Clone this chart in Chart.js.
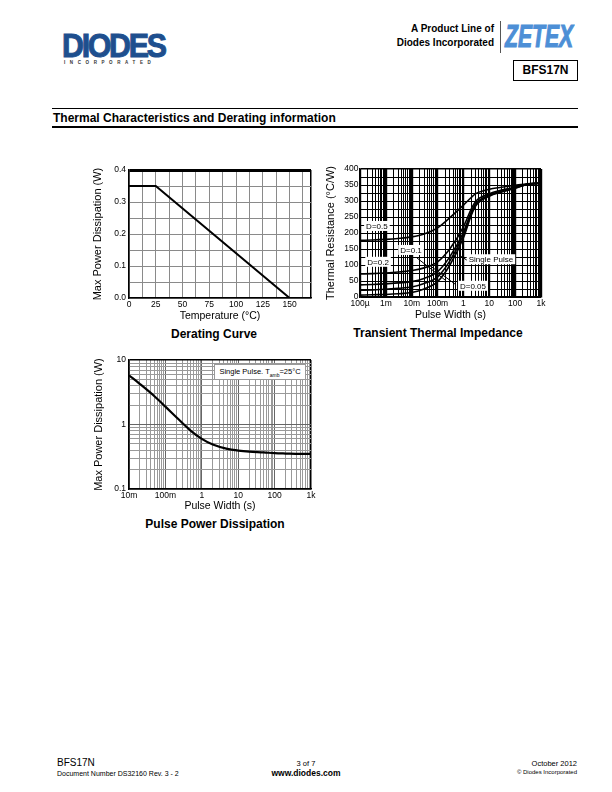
<!DOCTYPE html>
<html>
<head>
<meta charset="utf-8">
<script src="https://cdn.jsdelivr.net/npm/chart.js@4.4.0/dist/chart.umd.min.js"></script>
<style>
  body { margin: 0; width: 612px; height: 792px; position: relative; background: #fff; overflow: hidden;
         font-family: "Liberation Sans", Arial, sans-serif; color: #000; }
  .t { position: absolute; white-space: nowrap; line-height: 1; }
  canvas { position: absolute; }
  .cap { position: absolute; font-weight: bold; font-size: 12px; transform: translate(-50%, -50%); white-space: nowrap; }
</style>
</head>
<body>

<!-- header -->
<div class="t" style="left:62px;top:29px;font-size:33px;font-weight:900;color:#1e4f8e;letter-spacing:-2.5px;-webkit-text-stroke:1px #1e4f8e;transform:scaleX(0.92);transform-origin:left">DIODES</div>
<div class="t" style="left:64px;top:61px;font-size:4.5px;font-weight:bold;letter-spacing:4.6px;color:#333">INCORPORATED</div>
<div class="t" style="right:118px;top:24px;font-size:10px;font-weight:bold;text-align:right">A Product Line of</div>
<div class="t" style="right:118px;top:38px;font-size:10px;font-weight:bold;text-align:right">Diodes Incorporated</div>
<div style="position:absolute;left:500px;top:21px;width:1px;height:32px;background:#555"></div>
<div class="t" style="left:505px;top:20px;font-size:32px;font-weight:bold;font-style:italic;color:#4d8fd6;-webkit-text-stroke:1.2px #4d8fd6;transform:scaleX(0.66);transform-origin:left">ZETEX</div>
<div style="position:absolute;left:513px;top:60px;width:63px;height:19px;border:1px solid #000;font-size:12px;font-weight:bold;text-align:center;line-height:19px">BFS17N</div>

<div style="position:absolute;left:52px;top:108px;width:526px;height:1px;background:#000"></div>
<div class="t" style="left:53px;top:112px;font-size:12px;font-weight:bold">Thermal Characteristics and Derating information</div>
<div style="position:absolute;left:52px;top:126px;width:526px;height:2px;background:#000"></div>

<!-- charts -->
<canvas id="derating" width="231" height="160" style="left:90px;top:162px"></canvas>
<canvas id="transient" width="228" height="160" style="left:323px;top:161px"></canvas>
<canvas id="pulse" width="230" height="160" style="left:91px;top:352px"></canvas>

<div class="cap" style="left:214px;top:334px">Derating Curve</div>
<div class="cap" style="left:438px;top:333px">Transient Thermal Impedance</div>
<div class="cap" style="left:215px;top:524px">Pulse Power Dissipation</div>

<div style="position:absolute;left:214px;top:364px;width:90px;height:14px;border:1px solid #999;background:#fff;font-size:7.5px;line-height:14px;text-align:center;white-space:nowrap">Single Pulse. T<sub style="font-size:5px">amb</sub>=25°C</div>

<!-- footer -->
<div class="t" style="left:57px;top:758px;font-size:10px">BFS17N</div>
<div class="t" style="left:57px;top:770px;font-size:7px">Document Number DS32160 Rev. 3 - 2</div>
<div class="t" style="left:306px;top:760px;font-size:7.5px;transform:translateX(-50%)">3 of 7</div>
<div class="t" style="left:306px;top:769px;font-size:8.5px;font-weight:bold;transform:translateX(-50%)">www.diodes.com</div>
<div class="t" style="right:35px;top:760px;font-size:7.5px">October 2012</div>
<div class="t" style="right:35px;top:769px;font-size:6px">© Diodes Incorporated</div>

<script>
// ---- Derating curve ----
const derTemp = [0, 25, 150];
const derPower = [0.35, 0.35, 0];
const derXGrid = [0, 12.5, 25, 37.5, 50, 62.5, 75, 87.5, 100, 112.5, 125, 137.5, 150, 162.5, 170];
const derXLabelValues = [0, 25, 50, 75, 100, 125, 150];
const derXLabels = ["0", "25", "50", "75", "100", "125", "150"];
const derYGrid = [0, 0.05, 0.1, 0.15, 0.2, 0.25, 0.3, 0.35, 0.4];
const derYLabelValues = [0, 0.1, 0.2, 0.3, 0.4];
const derYLabels = ["0.0", "0.1", "0.2", "0.3", "0.4"];

// ---- Transient thermal impedance ----
const ttTimes = [1e-4, 3e-4, 1e-3, 3e-3, 1e-2, 3e-2, 0.1, 0.3, 1, 2, 3, 10, 30, 100, 300, 1000];
const ttD05 = [177, 178, 180, 183, 188, 197, 216, 248, 287, 311, 323, 337, 343, 349, 354, 356];
const ttD02 = [72, 73, 75, 78, 83, 91, 110, 151, 219, 275, 299, 323, 334, 343, 353, 356];
const ttD01 = [38, 39, 41, 44, 48, 58, 79, 126, 202, 265, 292, 319, 331, 342, 352, 356];
const ttD005 = [21, 22, 24, 27, 31, 42, 63, 113, 194, 260, 289, 317, 330, 341, 352, 356];
const ttSingle = [6, 7, 8, 10, 14, 25, 48, 100, 185, 255, 285, 315, 328, 340, 352, 356];
const ttDecades = [1e-4, 1e-3, 1e-2, 0.1, 1, 10, 100, 1000];
const ttXLabels = ["100µ", "1m", "10m", "100m", "1", "10", "100", "1k"];
const ttYGrid = [0, 25, 50, 75, 100, 125, 150, 175, 200, 225, 250, 275, 300, 325, 350, 375, 400];
const ttYLabelValues = [0, 50, 100, 150, 200, 250, 300, 350, 400];
const ttYLabels = ["0", "50", "100", "150", "200", "250", "300", "350", "400"];
const ttNotes = [
  { text: "D=0.5", x: 4.5e-4, y: 222 },
  { text: "D=0.2", x: 5e-4, y: 110 },
  { text: "D=0.1", x: 0.0094, y: 147 },
  { text: "Single Pulse", x: 11.6, y: 118 },
  { text: "D=0.05", x: 2.34, y: 35 }
];
const ttLeaders = [
  [[0.016, 122], [0.21, 51]],
  [[0.52, 38], [0.051, 98]],
  [[1.5, 113], [0.74, 129]]
];

// ---- Pulse power dissipation ----
const ppTimes = [0.01, 0.02, 0.05, 0.1, 0.2, 0.5, 1, 2, 5, 10, 20, 50, 100, 200, 500, 1000];
const ppPower = [5.8, 4.25, 2.75, 1.9, 1.3, 0.8, 0.6, 0.49, 0.42, 0.395, 0.38, 0.37, 0.36, 0.355, 0.35, 0.35];
const ppXDecades = [0.01, 0.1, 1, 10, 100, 1000];
const ppXLabels = ["10m", "100m", "1", "10", "100", "1k"];
const ppYDecades = [0.1, 1, 10];
const ppYLabels = ["0.1", "1", "10"];

const FONT = '"Liberation Sans", Arial, sans-serif';
const tickFont = { family: FONT, size: 8.5 };

function near(a, b) { return Math.abs(a - b) <= Math.abs(b) * 1e-6 + 1e-9; }
function lookup(values, labels) {
  return v => { const i = values.findIndex(d => near(v, d)); return i < 0 ? "" : labels[i]; };
}
function isIn(values, v) { return values.some(d => near(v, d)); }
// 1..9 multiples of each decade, stopping at the last decade
function logGrid(decades) {
  const out = [];
  decades.forEach((d, i) => {
    if (i === decades.length - 1) { out.push(d); return; }
    for (let m = 1; m < 10; m++) out.push(d * m);
  });
  return out;
}
function pts(xs, ys) { return xs.map((x, i) => ({ x, y: ys[i] })); }

function axis(o) {
  return {
    type: o.type, position: o.position, min: o.min, max: o.max,
    afterBuildTicks: s => { s.ticks = o.grid.map(v => ({ value: v })); },
    afterFit: s => { if (o.position === "left") s.width = o.size; else s.height = o.size; },
    ticks: { callback: o.label, autoSkip: false, maxRotation: 0, padding: o.pad, color: "#000", font: tickFont },
    grid: { drawTicks: false, color: o.gridColor, lineWidth: o.gridWidth },
    border: { color: "#000", width: 1.5 },
    title: { display: true, text: o.title, color: "#000", padding: { top: 1, bottom: 0 },
             font: { family: FONT, size: o.position === "left" ? 11 : 10.5 } }
  };
}

const baseOpts = {
  responsive: false, animation: false, devicePixelRatio: 1,
  plugins: { legend: { display: false }, tooltip: { enabled: false } },
  layout: { padding: { top: 8, right: 10, left: 0, bottom: 0 } }
};

// Derating
new Chart(document.getElementById("derating"), {
  type: "line",
  data: { datasets: [{ data: pts(derTemp, derPower), borderColor: "#000", borderWidth: 2, pointRadius: 0, tension: 0 }] },
  options: {
    ...baseOpts,
    scales: {
      x: axis({ type: "linear", position: "bottom", min: 0, max: 170, grid: derXGrid, size: 24, pad: 2,
        label: lookup(derXLabelValues, derXLabels), title: "Temperature (°C)",
        gridColor: c => c.tick.value === 170 ? "#000" : "#8a8a8a",
        gridWidth: c => c.tick.value === 170 ? 1.5 : 1 }),
      y: axis({ type: "linear", position: "left", min: 0, max: 0.4, grid: derYGrid, size: 39, pad: 3,
        label: lookup(derYLabelValues, derYLabels), title: "Max Power Dissipation (W)",
        gridColor: c => near(c.tick.value, 0.4) ? "#000" : "#8a8a8a",
        gridWidth: c => near(c.tick.value, 0.4) ? 3 : 1 })
    }
  }
});

// Transient thermal impedance
const notesPlugin = {
  id: "notes",
  afterDatasetsDraw(chart) {
    const { ctx, scales: { x, y } } = chart;
    ctx.save();
    ctx.strokeStyle = "#000";
    ctx.lineWidth = 1;
    ttLeaders.forEach(([a, b]) => {
      ctx.beginPath();
      ctx.moveTo(x.getPixelForValue(a[0]), y.getPixelForValue(a[1]));
      ctx.lineTo(x.getPixelForValue(b[0]), y.getPixelForValue(b[1]));
      ctx.stroke();
    });
    ctx.font = "8px " + FONT;
    ctx.textAlign = "center";
    ctx.textBaseline = "middle";
    ttNotes.forEach(n => {
      const px = x.getPixelForValue(n.x), py = y.getPixelForValue(n.y);
      const w = ctx.measureText(n.text).width + 4;
      ctx.fillStyle = "#fff";
      ctx.fillRect(px - w / 2, py - 5, w, 10);
      ctx.fillStyle = "#000";
      ctx.fillText(n.text, px, py + 0.5);
    });
    ctx.restore();
  }
};

const ttSeries = [ttD05, ttD02, ttD01, ttD005, ttSingle];
new Chart(document.getElementById("transient"), {
  type: "line",
  data: {
    datasets: ttSeries.map(s => ({ data: pts(ttTimes, s), borderColor: "#000", borderWidth: 1.6,
      pointRadius: 0, cubicInterpolationMode: "monotone" }))
  },
  options: {
    ...baseOpts,
    scales: {
      x: axis({ type: "logarithmic", position: "bottom", min: 1e-4, max: 1000, grid: logGrid(ttDecades), size: 24, pad: 2,
        label: lookup(ttDecades, ttXLabels), title: "Pulse Width (s)",
        gridColor: "#000",
        gridWidth: c => isIn(ttDecades, c.tick.value) ? 2.2 : 1 }),
      y: axis({ type: "linear", position: "left", min: 0, max: 400, grid: ttYGrid, size: 37, pad: 1.5,
        label: lookup(ttYLabelValues, ttYLabels), title: "Thermal Resistance (°C/W)",
        gridColor: "#000", gridWidth: c => c.tick.value === 400 ? 1.5 : 1 })
    }
  },
  plugins: [notesPlugin]
});

// Pulse power dissipation
new Chart(document.getElementById("pulse"), {
  type: "line",
  data: { datasets: [{ data: pts(ppTimes, ppPower), borderColor: "#000", borderWidth: 2.2, pointRadius: 0,
    cubicInterpolationMode: "monotone" }] },
  options: {
    ...baseOpts,
    scales: {
      x: axis({ type: "logarithmic", position: "bottom", min: 0.01, max: 1000, grid: logGrid(ppXDecades), size: 23, pad: 2,
        label: lookup(ppXDecades, ppXLabels), title: "Pulse Width (s)",
        gridColor: c => c.tick.value >= 999 ? "#000" : isIn(ppXDecades, c.tick.value) ? "#666" : "#999",
        gridWidth: c => c.tick.value >= 999 ? 1.5 : 1 }),
      y: axis({ type: "logarithmic", position: "left", min: 0.1, max: 10, grid: logGrid(ppYDecades), size: 38, pad: 3,
        label: lookup(ppYDecades, ppYLabels), title: "Max Power Dissipation (W)",
        gridColor: c => near(c.tick.value, 10) ? "#000" : isIn(ppYDecades, c.tick.value) ? "#666" : "#999",
        gridWidth: c => near(c.tick.value, 10) ? 1.5 : 1 })
    }
  }
});
</script>
</body>
</html>
